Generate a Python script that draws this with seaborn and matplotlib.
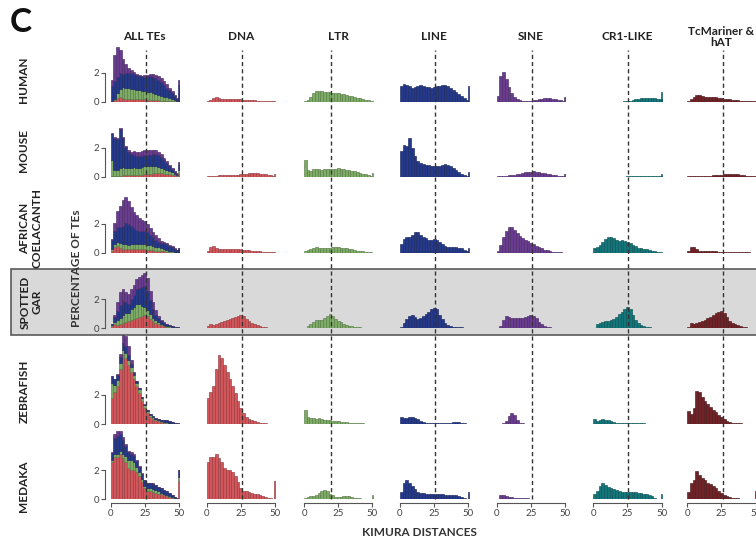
import numpy as np
import pandas as pd
import seaborn as sns
import matplotlib.pyplot as plt
import matplotlib.colors as mcolors
from matplotlib.patches import Rectangle

sns.set_theme(style='ticks')
plt.rcParams['font.family'] = ['Lato', 'DejaVu Sans']

# Kimura distance bins (width 2, centres 1..49); values = percentage of TEs
kimura = np.arange(1, 50, 2)
edges = list(range(0, 51, 2))

human_dna = [0.03, 0.1, 0.25, 0.3, 0.27, 0.22, 0.2, 0.2, 0.2, 0.19, 0.18, 0.17, 0.16, 0.15, 0.14, 0.12, 0.11, 0.1, 0.08, 0.07, 0.06, 0.05, 0.04, 0.03, 0.03]
human_ltr = [0.02, 0.1, 0.35, 0.6, 0.72, 0.75, 0.72, 0.68, 0.66, 0.64, 0.62, 0.6, 0.57, 0.54, 0.5, 0.46, 0.42, 0.38, 0.33, 0.28, 0.23, 0.18, 0.14, 0.09, 0.05]
human_line = [1.05, 1.2, 1.12, 1.05, 0.95, 1.0, 1.08, 1.12, 1.08, 1.0, 0.98, 0.97, 1.0, 1.05, 1.1, 1.14, 1.12, 1.05, 0.95, 0.82, 0.68, 0.55, 0.4, 0.25, 0.1]
human_sine = [0.4, 1.8, 2.05, 1.6, 1.0, 0.6, 0.35, 0.18, 0.1, 0.06, 0.05, 0.06, 0.08, 0.11, 0.15, 0.19, 0.22, 0.25, 0.26, 0.25, 0.22, 0.18, 0.14, 0.1, 0.06]
human_cr1 = [0.01, 0.01, 0.01, 0.01, 0.01, 0.01, 0.01, 0.01, 0.01, 0.01, 0.01, 0.02, 0.04, 0.08, 0.12, 0.16, 0.2, 0.23, 0.26, 0.27, 0.27, 0.26, 0.25, 0.22, 0.2]
human_tc = [0.05, 0.2, 0.35, 0.45, 0.47, 0.38, 0.35, 0.34, 0.34, 0.33, 0.3, 0.28, 0.25, 0.22, 0.19, 0.16, 0.14, 0.12, 0.1, 0.08, 0.07, 0.06, 0.05, 0.04, 0.03]
human_spike = {'DNA': 0, 'LTR': 0.05, 'LINE': 1.1, 'SINE': 0.35, 'CR1': 0.7, 'Tc': 0}

mouse_dna = [0.02, 0.04, 0.06, 0.08, 0.1, 0.1, 0.1, 0.09, 0.09, 0.1, 0.11, 0.13, 0.16, 0.19, 0.22, 0.24, 0.26, 0.26, 0.25, 0.22, 0.19, 0.16, 0.13, 0.1, 0.08]
mouse_ltr = [1.15, 0.45, 0.42, 0.5, 0.56, 0.52, 0.47, 0.5, 0.55, 0.53, 0.5, 0.55, 0.58, 0.54, 0.5, 0.48, 0.46, 0.42, 0.38, 0.33, 0.28, 0.22, 0.16, 0.1, 0.06]
mouse_line = [1.8, 2.2, 2.1, 2.7, 2.0, 1.4, 1.1, 0.95, 0.88, 0.82, 0.8, 0.77, 0.74, 0.74, 0.76, 0.82, 0.85, 0.8, 0.72, 0.6, 0.48, 0.34, 0.22, 0.12, 0.05]
mouse_sine = [0.05, 0.06, 0.07, 0.08, 0.1, 0.12, 0.15, 0.18, 0.22, 0.26, 0.3, 0.33, 0.35, 0.36, 0.35, 0.32, 0.28, 0.24, 0.2, 0.16, 0.13, 0.1, 0.08, 0.06, 0.04]
mouse_cr1 = [0.01, 0.01, 0.01, 0.01, 0.01, 0.01, 0.01, 0.01, 0.01, 0.01, 0.01, 0.01, 0.02, 0.02, 0.03, 0.03, 0.04, 0.04, 0.05, 0.05, 0.05, 0.05, 0.05, 0.04, 0.04]
mouse_tc = [0.03, 0.05, 0.06, 0.07, 0.07, 0.07, 0.07, 0.07, 0.08, 0.09, 0.1, 0.12, 0.14, 0.16, 0.18, 0.19, 0.2, 0.19, 0.17, 0.14, 0.11, 0.08, 0.06, 0.04, 0.03]
mouse_spike = {'DNA': 0.18, 'LTR': 0.28, 'LINE': 0.35, 'SINE': 0.18, 'CR1': 0.18, 'Tc': 0}

coel_dna = [0.15, 0.38, 0.45, 0.32, 0.25, 0.24, 0.24, 0.25, 0.25, 0.25, 0.25, 0.24, 0.23, 0.21, 0.19, 0.17, 0.15, 0.13, 0.11, 0.09, 0.07, 0.05, 0.04, 0.03, 0.02]
coel_ltr = [0.1, 0.2, 0.28, 0.33, 0.36, 0.33, 0.32, 0.33, 0.32, 0.34, 0.36, 0.37, 0.36, 0.35, 0.33, 0.3, 0.27, 0.23, 0.19, 0.15, 0.12, 0.09, 0.06, 0.04, 0.02]
coel_line = [0.6, 0.95, 1.05, 1.1, 1.25, 1.45, 1.4, 1.25, 1.1, 0.98, 0.9, 0.88, 0.92, 0.85, 0.72, 0.6, 0.48, 0.4, 0.36, 0.4, 0.4, 0.35, 0.3, 0.2, 0.12]
coel_sine = [0.1, 0.5, 1.1, 1.5, 1.75, 1.8, 1.6, 1.35, 1.15, 1.0, 0.88, 0.78, 0.68, 0.58, 0.48, 0.38, 0.3, 0.22, 0.16, 0.11, 0.08, 0.05, 0.03, 0.02, 0.01]
coel_cr1 = [0.35, 0.4, 0.55, 0.75, 0.95, 1.05, 1.08, 1.0, 0.88, 0.82, 0.85, 0.82, 0.76, 0.68, 0.55, 0.43, 0.35, 0.3, 0.27, 0.24, 0.2, 0.15, 0.1, 0.06, 0.03]
coel_tc = [0.15, 0.38, 0.42, 0.25, 0.14, 0.11, 0.1, 0.1, 0.1, 0.09, 0.09, 0.08, 0.08, 0.07, 0.06, 0.05, 0.05, 0.04, 0.04, 0.03, 0.03, 0.02, 0.02, 0.01, 0.01]
coel_spike = {'DNA': 0, 'LTR': 0, 'LINE': 0.3, 'SINE': 0, 'CR1': 0, 'Tc': 0}

gar_dna = [0.15, 0.3, 0.25, 0.3, 0.38, 0.45, 0.5, 0.58, 0.65, 0.72, 0.8, 0.88, 0.95, 0.85, 0.65, 0.48, 0.38, 0.3, 0.22, 0.16, 0.11, 0.08, 0.05, 0.03, 0.02]
gar_ltr = [0.05, 0.15, 0.3, 0.42, 0.55, 0.6, 0.58, 0.72, 0.85, 0.98, 0.85, 0.65, 0.52, 0.42, 0.32, 0.25, 0.19, 0.14, 0.11, 0.09, 0.07, 0.05, 0.04, 0.03, 0.02]
gar_line = [0.1, 0.35, 0.65, 0.88, 0.95, 0.75, 0.62, 0.7, 0.82, 0.98, 1.12, 1.3, 1.42, 1.3, 0.95, 0.62, 0.38, 0.24, 0.16, 0.12, 0.1, 0.08, 0.06, 0.04, 0.02]
gar_sine = [0.03, 0.15, 0.6, 0.88, 0.8, 0.7, 0.68, 0.68, 0.7, 0.72, 0.78, 0.88, 0.95, 0.88, 0.68, 0.45, 0.3, 0.18, 0.1, 0.06, 0.04, 0.03, 0.02, 0.01, 0.01]
gar_cr1 = [0.05, 0.28, 0.38, 0.45, 0.47, 0.5, 0.55, 0.65, 0.8, 0.98, 1.15, 1.35, 1.48, 1.3, 0.95, 0.6, 0.38, 0.25, 0.16, 0.1, 0.07, 0.05, 0.03, 0.02, 0.01]
gar_tc = [0.12, 0.38, 0.3, 0.4, 0.45, 0.52, 0.6, 0.7, 0.8, 0.92, 1.05, 1.15, 1.2, 1.05, 0.75, 0.52, 0.38, 0.28, 0.2, 0.14, 0.1, 0.07, 0.05, 0.03, 0.02]
gar_spike = {'DNA': 0, 'LTR': 0, 'LINE': 0, 'SINE': 0, 'CR1': 0, 'Tc': 0}

zebra_dna = [1.8, 2.2, 2.6, 3.8, 4.75, 4.55, 4.1, 3.6, 3.1, 2.6, 2.15, 1.6, 1.1, 0.75, 0.5, 0.35, 0.25, 0.18, 0.12, 0.08, 0.06, 0.04, 0.03, 0.02, 0.01]
zebra_ltr = [1.0, 0.5, 0.42, 0.38, 0.36, 0.38, 0.33, 0.3, 0.28, 0.26, 0.24, 0.22, 0.2, 0.17, 0.14, 0.12, 0.1, 0.08, 0.07, 0.06, 0.05, 0.04, 0.03, 0.02, 0.01]
zebra_line = [0.5, 0.4, 0.38, 0.45, 0.48, 0.42, 0.32, 0.22, 0.14, 0.09, 0.06, 0.05, 0.04, 0.04, 0.05, 0.05, 0.06, 0.08, 0.1, 0.13, 0.14, 0.12, 0.08, 0.04, 0.02]
zebra_sine = [0.0, 0.01, 0.05, 0.2, 0.55, 0.75, 0.6, 0.3, 0.1, 0.04, 0.02, 0.01, 0.01, 0.01, 0.01, 0.01, 0.01, 0.01, 0.01, 0.01, 0.01, 0.01, 0.01, 0.01, 0.01]
zebra_cr1 = [0.35, 0.2, 0.3, 0.35, 0.3, 0.25, 0.18, 0.12, 0.08, 0.06, 0.05, 0.04, 0.04, 0.04, 0.04, 0.04, 0.04, 0.04, 0.04, 0.03, 0.03, 0.03, 0.02, 0.02, 0.01]
zebra_tc = [0.9, 0.7, 1.1, 2.3, 2.2, 1.85, 1.6, 1.4, 1.2, 0.98, 0.8, 0.6, 0.45, 0.32, 0.22, 0.15, 0.1, 0.07, 0.05, 0.04, 0.03, 0.02, 0.02, 0.01, 0.01]
zebra_spike = {'DNA': 0, 'LTR': 0, 'LINE': 0, 'SINE': 0, 'CR1': 0, 'Tc': 0}

medaka_dna = [2.6, 2.95, 2.9, 3.1, 2.85, 2.55, 2.15, 2.05, 2.05, 1.85, 1.6, 1.2, 0.8, 0.6, 0.55, 0.5, 0.45, 0.4, 0.34, 0.28, 0.22, 0.16, 0.11, 0.07, 0.04]
medaka_ltr = [0.1, 0.15, 0.2, 0.22, 0.3, 0.45, 0.58, 0.65, 0.55, 0.4, 0.28, 0.18, 0.15, 0.16, 0.2, 0.22, 0.2, 0.14, 0.1, 0.08, 0.06, 0.05, 0.04, 0.03, 0.02]
medaka_line = [0.5, 1.1, 1.3, 1.15, 0.95, 0.7, 0.5, 0.44, 0.42, 0.4, 0.38, 0.36, 0.35, 0.35, 0.34, 0.34, 0.33, 0.32, 0.32, 0.3, 0.28, 0.22, 0.14, 0.06, 0.02]
medaka_sine = [0.05, 0.28, 0.3, 0.22, 0.17, 0.14, 0.12, 0.1, 0.09, 0.08, 0.07, 0.06, 0.05, 0.04, 0.03, 0.03, 0.02, 0.02, 0.01, 0.01, 0.01, 0.01, 0.01, 0.01, 0.01]
medaka_cr1 = [0.35, 0.6, 0.95, 1.1, 1.0, 0.88, 0.75, 0.7, 0.66, 0.58, 0.52, 0.5, 0.49, 0.5, 0.5, 0.48, 0.45, 0.42, 0.38, 0.34, 0.28, 0.2, 0.12, 0.05, 0.02]
medaka_tc = [0.5, 1.1, 1.3, 1.95, 1.7, 1.45, 1.32, 1.15, 1.05, 0.92, 0.78, 0.6, 0.45, 0.3, 0.2, 0.14, 0.1, 0.08, 0.06, 0.05, 0.04, 0.03, 0.03, 0.02, 0.02]
medaka_spike = {'DNA': 1.25, 'LTR': 0.28, 'LINE': 0.5, 'SINE': 0, 'CR1': 0.4, 'Tc': 0.6}

species = ['HUMAN', 'MOUSE', 'AFRICAN\nCOELACANTH', 'SPOTTED\nGAR', 'ZEBRAFISH', 'MEDAKA']
columns = ['ALL TEs', 'DNA', 'LTR', 'LINE', 'SINE', 'CR1-LIKE', 'TcMariner &\nhAT']
classes = ['DNA', 'LTR', 'LINE', 'SINE', 'CR1', 'Tc']
ref_kimura = [25.8, 25.8, 19.5, 25.8, 25.8, 25.6, 26.0]

series = {
    'HUMAN': [human_dna, human_ltr, human_line, human_sine, human_cr1, human_tc],
    'MOUSE': [mouse_dna, mouse_ltr, mouse_line, mouse_sine, mouse_cr1, mouse_tc],
    'AFRICAN\nCOELACANTH': [coel_dna, coel_ltr, coel_line, coel_sine, coel_cr1, coel_tc],
    'SPOTTED\nGAR': [gar_dna, gar_ltr, gar_line, gar_sine, gar_cr1, gar_tc],
    'ZEBRAFISH': [zebra_dna, zebra_ltr, zebra_line, zebra_sine, zebra_cr1, zebra_tc],
    'MEDAKA': [medaka_dna, medaka_ltr, medaka_line, medaka_sine, medaka_cr1, medaka_tc],
}
spikes = {'HUMAN': human_spike, 'MOUSE': mouse_spike, 'AFRICAN\nCOELACANTH': coel_spike,
          'SPOTTED\nGAR': gar_spike, 'ZEBRAFISH': zebra_spike, 'MEDAKA': medaka_spike}

rows = []
for sp in species:
    for cls, vals in zip(classes, series[sp]):
        for k, v in zip(kimura, vals):
            rows.append((sp, cls, float(k), v))
df = pd.DataFrame(rows, columns=['species', 'cls', 'kimura', 'pct'])
df_spike = pd.DataFrame([(sp, c, 50.0, spikes[sp][c]) for sp in species for c in classes],
                        columns=['species', 'cls', 'kimura', 'pct'])

palette = {'DNA': '#d2555a', 'LTR': '#7dac66', 'LINE': '#25398a', 'SINE': '#6a3c8f',
           'CR1': '#12767a', 'Tc': '#6f2327'}
stack_order = ['SINE', 'LINE', 'LTR', 'DNA']


def darker(c, f=0.72):
    r, g, b, a = mcolors.to_rgba(c)
    return (r * f, g * f, b * f, 1)


W, H = 756, 539
fig = plt.figure(figsize=(W / 100, H / 100), dpi=100)

def fx(x):
    return x / W

def fy(y):
    return 1 - y / H

# layout (pixels)
col_x0 = [110.7, 206.7, 304.0, 400.0, 496.7, 593.3, 687.3]
row_base = [101.7, 176.7, 252.7, 328.3, 424.0, 499.3]
px_x = 68.3 / 50
px_y = 14.5
xlo, xhi, ytop = -1, 51, 7

# grey highlight box behind spotted gar
fig.add_artist(Rectangle((fx(10.7), fy(334.7)), fx(760 - 10.7), (334.7 - 269) / H,
                         transform=fig.transFigure, facecolor='#d9d9d9',
                         edgecolor='#5a5a5a', lw=1.2, zorder=-1))

axes = {}
for i, sp in enumerate(species):
    for j, col in enumerate(columns):
        left = col_x0[j] + xlo * px_x
        ax = fig.add_axes([fx(left), fy(row_base[i]), (xhi - xlo) * px_x / W, ytop * px_y / H])
        ax.set_facecolor('none')
        sub = df[df.species == sp]
        sub_s = df_spike[df_spike.species == sp]
        if j == 0:
            sns.histplot(data=sub[sub.cls.isin(stack_order)], x='kimura', weights='pct', hue='cls',
                         hue_order=stack_order, multiple='stack', bins=edges, palette=palette,
                         alpha=1, legend=False, ax=ax)
            spk = sub_s[sub_s.cls.isin(stack_order)]
            if spk.pct.sum() > 0:
                sns.histplot(data=spk, x='kimura', weights='pct',
                             hue='cls', hue_order=stack_order, multiple='stack', bins=[49.5, 50.5],
                             palette=palette, alpha=1, legend=False, ax=ax)
        else:
            cls = classes[j - 1]
            sns.histplot(data=sub[sub.cls == cls], x='kimura', weights='pct', bins=edges,
                         color=palette[cls], alpha=1, ax=ax)
            spk = sub_s[sub_s.cls == cls]
            if spk.pct.sum() > 0:
                sns.histplot(data=spk, x='kimura', weights='pct',
                             bins=[49.5, 50.5], color=palette[cls], alpha=1, ax=ax)
        # thin darker edges give the striped look of the original bars
        for p in ax.patches:
            p.set_edgecolor(darker(p.get_facecolor()))
            p.set_linewidth(0.45)
        ax.set_xlim(xlo, xhi)
        ax.set_ylim(0, ytop)
        ax.set(xlabel='', ylabel='')
        for s in ['top', 'right', 'left', 'bottom']:
            ax.spines[s].set_visible(False)
        ax.tick_params(left=False, bottom=False, labelleft=False, labelbottom=False)
        if j == 0:
            ax.spines['left'].set_visible(True)
            ax.spines['left'].set_position(('outward', 3))
            ax.spines['left'].set_bounds(0, 2)
            ax.spines['left'].set_color('#555555')
            ax.spines['left'].set_linewidth(0.8)
            ax.set_yticks([0, 2])
            ax.tick_params(left=True, labelleft=True, length=3, width=0.8, pad=1,
                           labelsize=7, color='#555555', labelcolor='#444444')
        if i == len(species) - 1:
            ax.spines['bottom'].set_visible(True)
            ax.spines['bottom'].set_position(('outward', 3))
            ax.spines['bottom'].set_bounds(0, 50)
            ax.spines['bottom'].set_color('#555555')
            ax.spines['bottom'].set_linewidth(0.8)
            ax.set_xticks([0, 25, 50])
            ax.tick_params(bottom=True, labelbottom=True, length=3, width=0.8, pad=1,
                           labelsize=7, color='#555555', labelcolor='#444444')
        axes[(i, j)] = ax

# dashed reference lines, drawn from the bottom row upwards
for j, ref in enumerate(ref_kimura):
    ax = axes[(len(species) - 1, j)]
    ax.axvline(ref, ymin=0, ymax=(row_base[-1] - 50) / (ytop * px_y), color='#333333',
               lw=1.0, ls=(0, (3, 2.2)), clip_on=False, zorder=10)

# column titles
for j, col in enumerate(columns):
    ax_c = col_x0[j] + 25 * px_x
    fig.text(fx(ax_c), fy(37), col, ha='center', va='center', fontsize=8.5,
             fontweight='bold', color='#222222', linespacing=1.1)

# row labels
label_y = [80, 151, 228, 302, 391, 486]
for i, sp in enumerate(species):
    x = 31 if '\n' in sp else 24
    fig.text(fx(x), fy(label_y[i]), sp, rotation=90, ha='center', va='center', fontsize=8.5,
             fontweight='bold', color='#222222', linespacing=1.15, multialignment='center')

fig.text(fx(77), fy(268), 'PERCENTAGE OF TEs', rotation=90, ha='center', va='center',
         fontsize=8.5, fontweight='bold', color='#333333')
fig.text(fx(419), fy(532), 'KIMURA DISTANCES', ha='center', va='center', fontsize=8.5,
         fontweight='bold', color='#333333')
fig.text(fx(21), fy(22), 'C', ha='center', va='center', fontsize=24, fontweight='bold',
         color='#111111')

fig.savefig('out.png', dpi=100)
